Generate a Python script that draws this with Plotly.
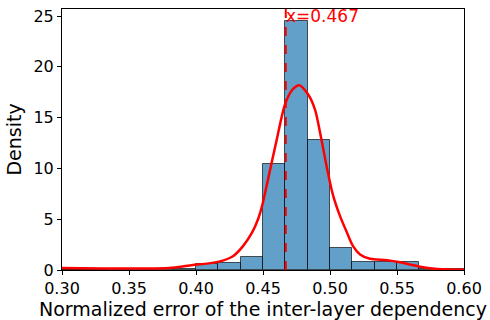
import plotly.graph_objects as go

# Histogram bins (left edges), width 1/60
bin_left = [0.3000, 0.3167, 0.3333, 0.3500, 0.3667, 0.3833, 0.4000, 0.4167, 0.4333,
            0.4500, 0.4667, 0.4833, 0.5000, 0.5167, 0.5333, 0.5500, 0.5667, 0.5833]
bin_width = 1 / 60
density = [0.0, 0.0, 0.1, 0.1, 0.1, 0.1, 0.56, 0.69, 1.25,
           10.4, 24.5, 12.8, 2.15, 0.77, 0.77, 0.8, 0.12, 0.05]

# KDE curve
kde_x = [0.300, 0.330, 0.360, 0.380, 0.3955, 0.4164, 0.4276, 0.4351, 0.4418, 0.4463,
         0.4493, 0.4537, 0.4597, 0.4664, 0.4716, 0.4769, 0.4836, 0.4888, 0.4925, 0.4978,
         0.5022, 0.5075, 0.5127, 0.5172, 0.5224, 0.5299, 0.5425, 0.5522, 0.5597, 0.5672,
         0.5784, 0.600]
kde_y = [0.20, 0.15, 0.15, 0.20, 0.45, 0.80, 1.36, 2.35, 3.67, 5.0,
         6.3, 8.9, 12.5, 16.3, 17.7, 18.2, 17.3, 15.8, 13.6, 10.0,
         7.4, 5.3, 3.67, 2.35, 1.53, 1.10, 0.97, 0.77, 0.54, 0.32,
         0.12, 0.02]

vline_x = 0.467
vline_label = "x=0.467"

x_ticks = [0.30, 0.35, 0.40, 0.45, 0.50, 0.55, 0.60]
x_tick_text = ["0.30", "0.35", "0.40", "0.45", "0.50", "0.55", "0.60"]
y_ticks = [0, 5, 10, 15, 20, 25]

FONT = "DejaVu Sans"

fig = go.Figure()
fig.add_trace(go.Bar(
    x=bin_left, y=density, width=[bin_width] * len(bin_left), offset=0,
    marker=dict(color="rgba(31,119,180,0.7)", line=dict(color="rgba(0,0,0,0.65)", width=1)),
    showlegend=False,
))
fig.add_trace(go.Scatter(
    x=kde_x, y=kde_y, mode="lines",
    line=dict(color="red", width=2.5, shape="spline", smoothing=0.8),
    showlegend=False,
))
fig.add_shape(type="line", x0=vline_x, x1=vline_x, y0=0, y1=1, xref="x", yref="paper",
              line=dict(color="red", width=2, dash="dash"))
fig.add_annotation(x=vline_x, y=1, xref="x", yref="paper", text=vline_label,
                   showarrow=False, xanchor="left", yanchor="top", xshift=-2, yshift=5,
                   font=dict(family=FONT, size=17, color="red"))

fig.update_layout(
    width=490, height=320,
    margin=dict(l=62, r=26, t=9, b=50, autoexpand=False),
    paper_bgcolor="white", plot_bgcolor="white",
    font=dict(family=FONT, color="black"),
    bargap=0,
)
fig.update_xaxes(
    range=[0.30, 0.60], tickvals=x_ticks, ticktext=x_tick_text, automargin=False,
    showline=True, mirror=True, linecolor="black", linewidth=1,
    ticks="outside", ticklen=4, tickcolor="black", showgrid=False, zeroline=False,
    tickfont=dict(size=16), title=dict(text="Normalized error of the inter-layer dependency",
                                       font=dict(size=19), standoff=2),
)
fig.update_yaxes(
    range=[0, 25.7], tickvals=y_ticks, automargin=False,
    showline=True, mirror=True, linecolor="black", linewidth=1,
    ticks="outside", ticklen=4, tickcolor="black", showgrid=False, zeroline=False,
    tickfont=dict(size=16), title=dict(text="Density", font=dict(size=19), standoff=6),
)

fig.write_html("out.html", config={"displayModeBar": False},
               post_script="document.body.style.margin='0';document.body.style.overflow='hidden';")
